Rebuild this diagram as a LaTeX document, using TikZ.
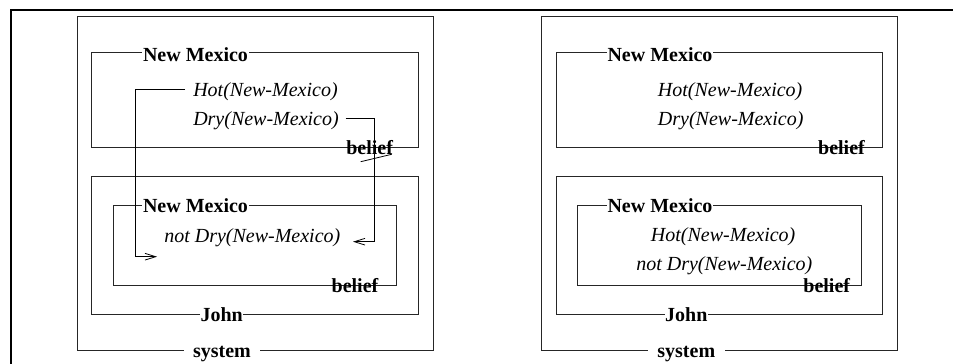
\documentclass[tikz,border=0pt]{standalone}
\usepackage{fontspec}
\setmainfont{Liberation Serif}
\usetikzlibrary{arrows.meta}
\begin{document}
\begin{tikzpicture}[x=0.75pt,y=-0.75pt,
  box/.style={draw=black!85,line width=0.6pt},
  lbl/.style={font=\fontsize{15}{18}\selectfont\bfseries,fill=white,inner xsep=0.5pt,inner ysep=1pt,anchor=base},
  syslbl/.style={lbl,inner xsep=7pt},
  blf/.style={font=\fontsize{15}{18}\selectfont\bfseries,inner sep=0pt,anchor=base},
  fact/.style={font=\fontsize{15}{18}\selectfont\itshape,inner sep=0pt,anchor=base west},
  link/.style={line width=0.6pt,-{Straight Barb[length=8pt,width=5pt]}}]
\useasboundingbox (0,0) rectangle (953,364);
% outer frame
\draw[line width=1.6pt] (11,364) -- (11,10) -- (953,10);

% ===== left diagram =====
\draw[box] (77.3,16.7) rectangle (433.3,350);
\node[syslbl] (Lsys) at (222,357) {system};
\draw[box] (91.7,52.7) rectangle (418.3,147);
\node[lbl] (Lnm1) at (195.5,61.5) {New Mexico};
\node[fact] (Lhot) at (193,96.5) {Hot(New-Mexico)};
\node[fact] (Ldry) at (193,125.5) {Dry(New-Mexico)};
\node[blf] (Lb1) at (369.7,154.3) {belief};
\draw[box] (91.7,176.7) rectangle (418.3,314);
\node[lbl] (Ljohn) at (221.7,321.5) {John};
\draw[box] (113.3,205.7) rectangle (396.7,285.7);
\node[lbl] (Lnm2) at (195.5,212.3) {New Mexico};
\node[fact] (Lnot) at (164,242.3) {not Dry(New-Mexico)};
\node[blf] (Lb2) at (355,292.3) {belief};
% connectors
\coordinate (a1) at (135,89);
\coordinate (a2) at (135,256.7);
\coordinate (a3) at (157,256.7);
\draw[link] ([xshift=-6pt,yshift=0pt]Lhot.west |- a1) -- (a1) -- (a2) -- (a3);
\coordinate (b1) at (374.7,118.3);
\coordinate (b2) at (374.7,241.7);
\coordinate (b3) at (353,241.7);
\draw[link] ([xshift=5pt]Ldry.east |- b1) -- (b1) -- (b2) -- (b3);
\draw[line width=0.6pt] (360.7,161.7) -- (391.7,154.3);

% ===== right diagram =====
\draw[box] (541,16.7) rectangle (897,350);
\node[syslbl] (Rsys) at (686.3,357) {system};
\draw[box] (556.3,52.7) rectangle (882.7,147);
\node[lbl] (Rnm1) at (660,61.5) {New Mexico};
\node[fact] (Rhot) at (657.7,96.5) {Hot(New-Mexico)};
\node[fact] (Rdry) at (657.7,125.5) {Dry(New-Mexico)};
\node[blf] (Rb1) at (841.5,154.3) {belief};
\draw[box] (556.3,176.7) rectangle (882.7,314);
\node[lbl] (Rjohn) at (686.3,321.5) {John};
\draw[box] (577.7,205.7) rectangle (861,285.7);
\node[lbl] (Rnm2) at (660,212.3) {New Mexico};
\node[fact] (Rhot2) at (650.7,241.5) {Hot(New-Mexico)};
\node[fact] (Rnot) at (636,270) {not Dry(New-Mexico)};
\node[blf] (Rb2) at (826.7,292.3) {belief};
\end{tikzpicture}
\end{document}
